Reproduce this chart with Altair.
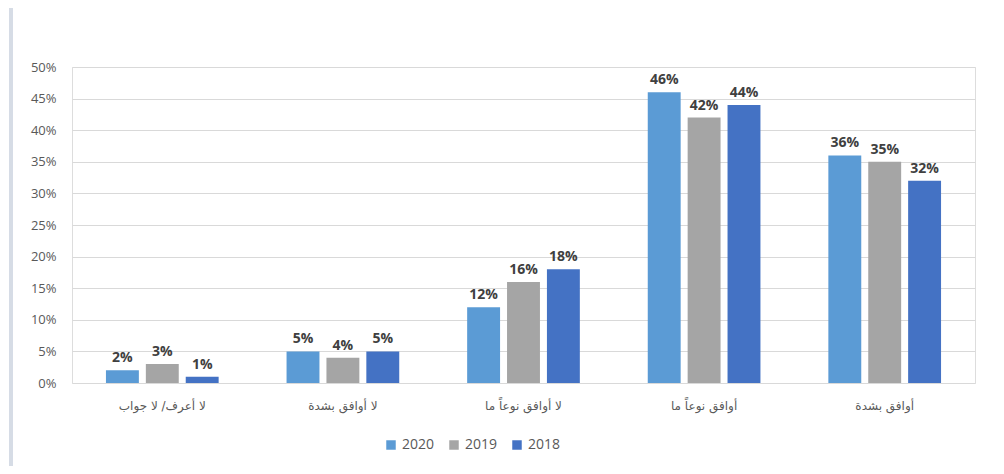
import altair as alt
import pandas as pd

categories = ["لا أعرف/ لا جواب", "لا أوافق بشدة", "لا أوافق نوعاً ما", "أوافق نوعاً ما", "أوافق بشدة"]
years = ["2020", "2019", "2018"]
v2020 = [2, 5, 12, 46, 36]
v2019 = [3, 4, 16, 42, 35]
v2018 = [1, 5, 18, 44, 32]
colors = ["#5B9BD5", "#A5A5A5", "#4472C4"]

rows = []
for i, c in enumerate(categories):
    for y, vals in zip(years, [v2020, v2019, v2018]):
        rows.append({"cat": c, "year": y, "value": vals[i] / 100.0, "label": f"{vals[i]}%"})
df = pd.DataFrame(rows)

x = alt.X("cat:N", sort=categories, title=None,
          scale=alt.Scale(paddingInner=0.376, paddingOuter=0.188),
          axis=alt.Axis(labelAngle=0, labelFont="DejaVu Sans", labelFontSize=12,
                        labelColor="#595959", labelPadding=17, domain=False, ticks=False))
xo = alt.XOffset("year:N", sort=years, scale=alt.Scale(paddingInner=0.175, paddingOuter=0))
y = alt.Y("value:Q", title=None,
          scale=alt.Scale(domain=[0, 0.5], nice=False),
          axis=alt.Axis(format=".0%", values=[i / 100 for i in range(0, 51, 5)],
                        labelFont="Open Sans", labelFontSize=13, labelColor="#595959",
                        labelPadding=16, domain=False, ticks=False,
                        gridColor="#D9D9D9", gridWidth=1))

bars = alt.Chart(df).mark_bar().encode(
    x=x, xOffset=xo, y=y,
    color=alt.Color("year:N", sort=years,
                    scale=alt.Scale(domain=years, range=colors),
                    legend=alt.Legend(orient="none", legendX=312, legendY=371,
                                      direction="horizontal", title=None,
                                      symbolType="square", symbolSize=90, symbolStrokeWidth=0,
                                      labelFont="Open Sans", labelFontSize=14,
                                      labelColor="#595959", columnPadding=12)),
)

labels = alt.Chart(df).mark_text(dy=-12, fontWeight="bold", font="Open Sans",
                                 fontSize=14, color="#404040").encode(
    x=x, xOffset=xo, y=y, text="label:N")

frame_left = alt.Chart(df).mark_rule(color="#D6DCE5", strokeWidth=3).encode(
    x=alt.value(-61), y=alt.value(-70), y2=alt.value(403))
frame_bottom = alt.Chart(df).mark_rule(color="#D6DCE5", strokeWidth=3).encode(
    x=alt.value(-61), x2=alt.value(928), y=alt.value(403))
frame_right = alt.Chart(df).mark_rule(color="#D6DCE5", strokeWidth=3).encode(
    x=alt.value(928), y=alt.value(-70), y2=alt.value(403))

chart = alt.layer(bars, labels, frame_left, frame_bottom, frame_right).properties(
    width=903, height=316,
    autosize=alt.AutoSizeParams(type="none"),
    padding={"left": 64, "top": 59, "right": 21, "bottom": 83},
).configure_view(stroke=None).configure(background="white")

chart.save("out.html", embed_options={"renderer": "svg", "actions": False})
